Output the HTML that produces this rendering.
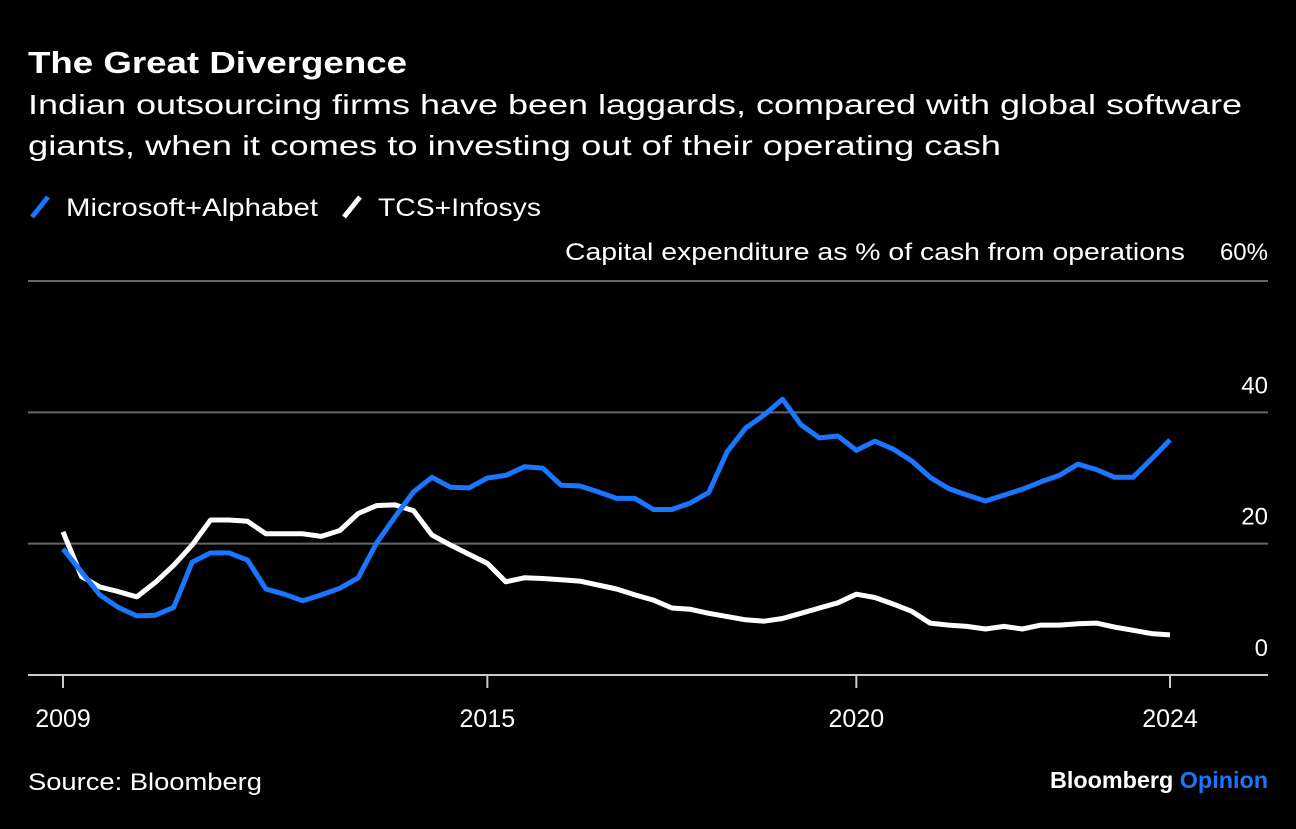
<!DOCTYPE html>
<html><head><meta charset="utf-8"><style>
body{margin:0;background:#000;width:1296px;height:824px;overflow:hidden;font-family:"Liberation Sans",sans-serif;color:#fff}
</style></head><body>
<svg width="1296" height="824">
<text x="28" y="73" font-size="31" font-weight="bold" fill="#fff" textLength="379" lengthAdjust="spacingAndGlyphs">The Great Divergence</text>
<text x="28" y="114" font-size="28" fill="#fff" textLength="1214" lengthAdjust="spacingAndGlyphs">Indian outsourcing firms have been laggards, compared with global software</text>
<text x="28" y="155" font-size="28" fill="#fff" textLength="973" lengthAdjust="spacingAndGlyphs">giants, when it comes to investing out of their operating cash</text>
<g><line x1="32" y1="217" x2="48" y2="197" stroke="#1a75ff" stroke-width="5"/><text x="66" y="216" font-size="25" fill="#fff" textLength="252" lengthAdjust="spacingAndGlyphs">Microsoft+Alphabet</text></g>
<g><line x1="344" y1="217" x2="360" y2="197" stroke="#fff" stroke-width="5"/><text x="378" y="216" font-size="25" fill="#fff" textLength="163" lengthAdjust="spacingAndGlyphs">TCS+Infosys</text></g>
<text x="565" y="260" font-size="24" fill="#fff" textLength="620" lengthAdjust="spacingAndGlyphs">Capital expenditure as % of cash from operations</text>
<g id="grid"></g><g id="xaxis"></g><g id="lines"></g>
<text x="28" y="790" font-size="24" fill="#fff" textLength="234" lengthAdjust="spacingAndGlyphs">Source: Bloomberg</text>
<text x="1050" y="788" font-size="23" font-weight="bold" textLength="218" lengthAdjust="spacingAndGlyphs"><tspan fill="#fff">Bloomberg </tspan><tspan fill="#1a75ff">Opinion</tspan></text>
</svg>
<script>
const msft=[19.2,15.7,12.2,10.3,9.0,9.1,10.3,17.2,18.6,18.6,17.5,13.1,12.3,11.3,12.2,13.2,14.8,20.1,24.1,27.9,30.1,28.6,28.5,30.0,30.4,31.7,31.5,28.9,28.8,27.9,26.9,26.9,25.2,25.2,26.2,27.8,34.0,37.6,39.6,42.0,38.1,36.1,36.4,34.2,35.6,34.4,32.6,30.1,28.4,27.4,26.5,27.4,28.3,29.4,30.4,32.1,31.3,30.1,30.1,32.9,35.8];
const tcs=[21.8,15.0,13.4,12.7,11.9,14.1,16.7,19.8,23.6,23.6,23.4,21.5,21.5,21.5,21.1,22.0,24.6,25.8,25.9,25.0,21.3,19.8,18.4,17.0,14.2,14.8,14.7,14.5,14.3,13.7,13.1,12.2,11.4,10.2,10.0,9.4,8.9,8.4,8.2,8.6,9.4,10.2,11.0,12.3,11.8,10.8,9.7,7.9,7.6,7.4,7.0,7.4,7.0,7.6,7.6,7.8,7.9,7.3,6.8,6.3,6.1];
const yTicks=[0,20,40,60];
const yTickLabels=["0","20","40","60%"];
const xTickIdx=[0,23,43,60];
const xTickLabels=["2009","2015","2020","2024"];
const N=msft.length;
const X=i=>63+i*(1170-63)/(N-1);
const Y=v=>675-v*(675-281)/60;
const NS="http://www.w3.org/2000/svg";
const mk=(t,a,p)=>{const e=document.createElementNS(NS,t);for(const k in a)e.setAttribute(k,a[k]);p.appendChild(e);return e;};
const grid=document.getElementById('grid');
yTicks.forEach((v,i)=>{
 const l=mk('line',{x1:28,x2:1268,y1:Y(v),y2:Y(v),stroke:v===0?'#ccc':'#666','stroke-width':2},grid);
 
 
 const ty=i<yTicks.length-1?Y(v)-19:260;
 const t=mk('text',{x:1268,y:ty,'font-size':24,'text-anchor':'end',fill:'#fff'},grid);t.textContent=yTickLabels[i];
 
 
});
const xa=document.getElementById('xaxis');
xTickIdx.forEach((ix,i)=>{
 const l=mk('line',{x1:X(ix),x2:X(ix),y1:675,y2:688,stroke:'#ccc','stroke-width':2},xa);
 
 
 const t=mk('text',{x:X(ix),y:727,'font-size':25,'text-anchor':'middle',fill:'#fff'},xa);t.textContent=xTickLabels[i];
 
 
});
const lg=document.getElementById('lines');
[[tcs,'#fff','tcs-infosys-line'],[msft,'#1a75ff','microsoft-alphabet-line']].forEach(([d,c,n])=>{
 const p=mk('path',{d:d.map((v,i)=>(i?'L':'M')+X(i).toFixed(1)+','+Y(v).toFixed(1)).join(''),fill:'none',stroke:c,'stroke-width':5,'stroke-linejoin':'round'},lg);
 
 
});
</script>
</body></html>
